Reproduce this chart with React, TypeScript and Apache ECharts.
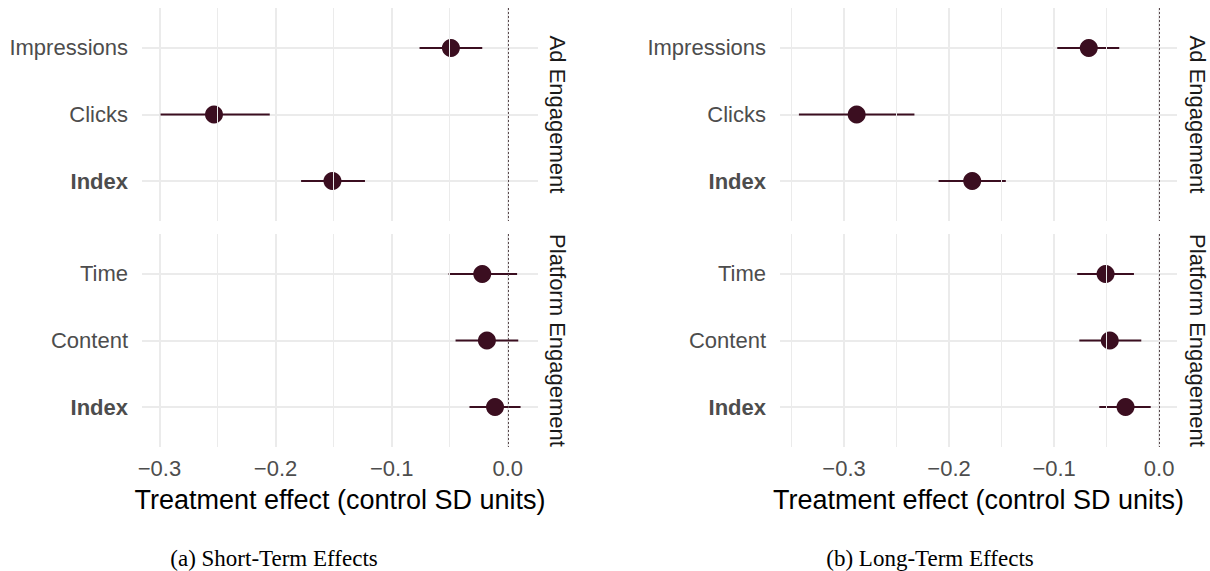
import React, { useEffect, useRef } from "react";
import * as echarts from "echarts";

// ---- data ----
const adCategories = ["Impressions", "Clicks", "Index"];
const platformCategories = ["Time", "Content", "Index"];
const facetLabels = ["Ad Engagement", "Platform Engagement"];
const panelCaptions = ["(a) Short-Term Effects", "(b) Long-Term Effects"];
const axisTitle = "Treatment effect (control SD units)";

// short-term
const shortAdEst = [-0.049, -0.253, -0.151];
const shortAdLo = [-0.076, -0.299, -0.178];
const shortAdHi = [-0.022, -0.205, -0.123];
const shortPlatEst = [-0.022, -0.018, -0.011];
const shortPlatLo = [-0.051, -0.045, -0.033];
const shortPlatHi = [0.008, 0.009, 0.011];
// long-term
const longAdEst = [-0.067, -0.288, -0.178];
const longAdLo = [-0.097, -0.343, -0.21];
const longAdHi = [-0.038, -0.233, -0.146];
const longPlatEst = [-0.051, -0.047, -0.032];
const longPlatLo = [-0.078, -0.076, -0.057];
const longPlatHi = [-0.024, -0.017, -0.008];

const shortRange = [-0.315, 0.026];
const longRange = [-0.361, 0.017];
const minorTicks = [-0.35, -0.25, -0.15, -0.05];

const FONT = "'Liberation Sans', Arial, Helvetica, sans-serif";
const SERIF = "'Liberation Serif', 'Times New Roman', serif";
const POINT = "#3B0E20";
const GRID = "#EBEBEB";

export default function App() {
  const ref = useRef<HTMLDivElement>(null);

  useEffect(() => {
    if (!ref.current) return;
    const chart = echarts.init(ref.current, undefined, { renderer: "svg" });

    const facets = [
      { cats: adCategories, est: shortAdEst, lo: shortAdLo, hi: shortAdHi, range: shortRange, bottom: false },
      { cats: platformCategories, est: shortPlatEst, lo: shortPlatLo, hi: shortPlatHi, range: shortRange, bottom: true },
      { cats: adCategories, est: longAdEst, lo: longAdLo, hi: longAdHi, range: longRange, bottom: false },
      { cats: platformCategories, est: longPlatEst, lo: longPlatLo, hi: longPlatHi, range: longRange, bottom: true },
    ];

    const grids = [
      { left: 142, top: 8, width: 396, height: 213 },
      { left: 142, top: 234, width: 396, height: 213 },
      { left: 780, top: 8, width: 397, height: 213 },
      { left: 780, top: 234, width: 397, height: 213 },
    ];

    const fmtX = (v: number) => {
      if (Math.abs(v) < 1e-9) return "0.0";
      return v.toFixed(1).replace("-", "\u2212");
    };

    const xAxis = facets.map((f, i) => ({
      type: "value",
      gridIndex: i,
      min: f.range[0],
      max: f.range[1],
      splitNumber: 3,
      axisLine: { show: false },
      axisTick: { show: false },
      axisLabel: {
        show: f.bottom,
        showMinLabel: false,
        showMaxLabel: false,
        formatter: fmtX,
        color: "#4D4D4D",
        fontSize: 22,
        fontFamily: FONT,
        margin: 10,
      },
      splitLine: {
        show: true,
        showMinLine: false,
        showMaxLine: false,
        lineStyle: { color: GRID, width: 2 },
      },
      name: f.bottom ? axisTitle : "",
      nameLocation: "middle",
      nameGap: 39,
      nameTextStyle: { fontSize: 27, color: "#000000", fontFamily: FONT },
    }));

    const yAxis = facets.map((f, i) => ({
      type: "value",
      gridIndex: i,
      min: 0.4,
      max: 3.6,
      splitNumber: 3,
      inverse: true,
      axisLine: { show: false },
      axisTick: { show: false },
      axisLabel: {
        showMinLabel: false,
        showMaxLabel: false,
        margin: 14,
        color: "#4D4D4D",
        fontSize: 22,
        fontFamily: FONT,
        formatter: (v: number) => {
          const k = Math.round(v);
          if (Math.abs(v - k) > 1e-6) return "";
          const name = f.cats[k - 1];
          if (!name) return "";
          return name === "Index" ? `{b|${name}}` : name;
        },
        rich: {
          b: { fontWeight: "bold", fontSize: 22, color: "#4D4D4D", fontFamily: FONT },
        },
      },
      splitLine: {
        show: true,
        showMinLine: false,
        showMaxLine: false,
        lineStyle: { color: GRID, width: 2 },
      },
    }));

    const series: any[] = [];
    facets.forEach((f, i) => {
      series.push({
        type: "scatter",
        xAxisIndex: i,
        yAxisIndex: i,
        data: [],
        z: 1,
        silent: true,
        markLine: {
          silent: true,
          symbol: ["none", "none"],
          label: { show: false },
          lineStyle: { color: GRID, width: 1, type: "solid" },
          data: [
            ...minorTicks
              .filter((v) => v > f.range[0] && v < f.range[1])
              .map((v) => ({ xAxis: v })),
            { xAxis: 0, lineStyle: { color: "#5A4A4E", width: 1, type: [2, 2] } },
          ],
        },
      });
      series.push({
        type: "custom",
        xAxisIndex: i,
        yAxisIndex: i,
        z: 3,
        silent: true,
        encode: { x: [0, 1], y: 2 },
        data: f.est.map((_, k) => [f.lo[k], f.hi[k], k + 1]),
        renderItem: (params: any, api: any) => {
          const p1 = api.coord([api.value(0), api.value(2)]);
          const p2 = api.coord([api.value(1), api.value(2)]);
          return {
            type: "line",
            shape: { x1: p1[0], y1: p1[1], x2: p2[0], y2: p2[1] },
            style: { stroke: POINT, lineWidth: 2 },
          };
        },
      });
      series.push({
        type: "scatter",
        xAxisIndex: i,
        yAxisIndex: i,
        z: 4,
        symbol: "circle",
        symbolSize: 18,
        itemStyle: { color: POINT, opacity: 1 },
        data: f.est.map((v, k) => [v, k + 1]),
      });
    });

    const stripCenters = [
      { x: 557, y: 114.5, t: facetLabels[0] },
      { x: 557, y: 340.5, t: facetLabels[1] },
      { x: 1197, y: 114.5, t: facetLabels[0] },
      { x: 1197, y: 340.5, t: facetLabels[1] },
    ];

    const graphic: any[] = stripCenters.map((s) => ({
      type: "text",
      x: s.x,
      y: s.y,
      rotation: -Math.PI / 2,
      silent: true,
      style: {
        text: s.t,
        fontSize: 22,
        fontFamily: FONT,
        fill: "#1A1A1A",
        align: "center",
        verticalAlign: "middle",
      },
    }));
    [
      { x: 274, t: panelCaptions[0] },
      { x: 930, t: panelCaptions[1] },
    ].forEach((c) =>
      graphic.push({
        type: "text",
        x: c.x,
        y: 558,
        silent: true,
        style: {
          text: c.t,
          fontSize: 23,
          fontFamily: SERIF,
          fill: "#000000",
          align: "center",
          verticalAlign: "middle",
        },
      })
    );

    chart.setOption({
      animation: false,
      backgroundColor: "#FFFFFF",
      textStyle: { fontFamily: FONT },
      grid: grids,
      xAxis,
      yAxis,
      series,
      graphic,
    });

    return () => chart.dispose();
  }, []);

  return (
    <div
      ref={ref}
      style={{ position: "absolute", left: 0, top: 0, width: 1210, height: 571 }}
    />
  );
}
